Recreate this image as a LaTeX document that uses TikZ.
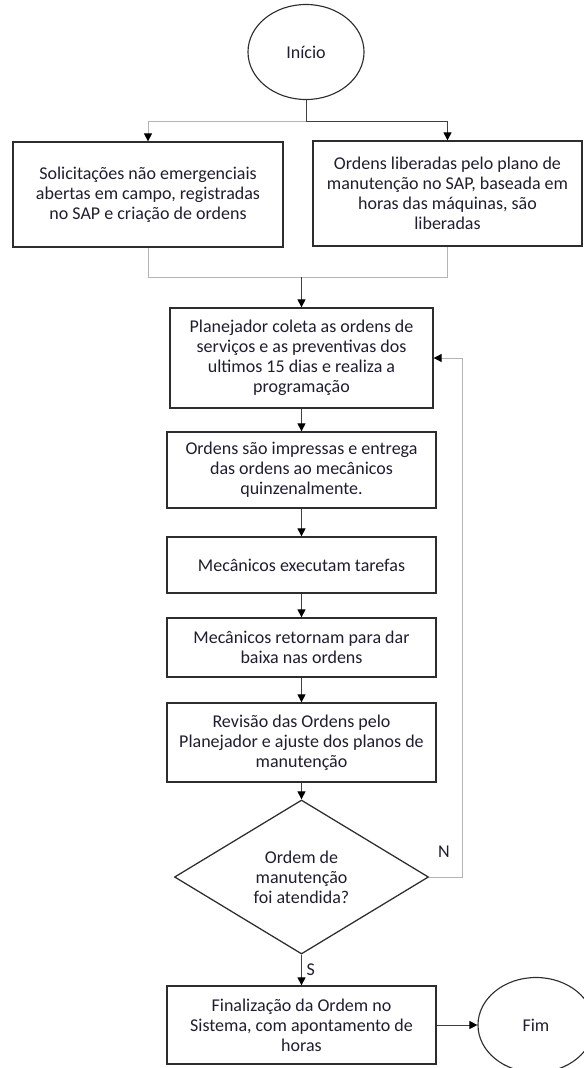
\documentclass[tikz,border=0pt]{standalone}
\usepackage{fontspec}
\setmainfont{Carlito}
\usepackage{xcolor}
\usepackage{tikz}
\usetikzlibrary{arrows.meta,shapes.geometric}

\definecolor{linhaclara}{RGB}{180,180,180}
\definecolor{linhaescura}{RGB}{64,64,64}
\definecolor{borda}{RGB}{45,45,45}
\definecolor{texto}{RGB}{30,30,48}

\begin{document}
\begin{tikzpicture}[x=0.025cm, y=-0.025cm, font=\fontsize{12.8}{14.2}\selectfont, text=texto,
    caixa/.style={shape=rectangle, draw=borda, line width=0.9pt, align=center, inner sep=0pt, minimum width=6.725cm},
    terminal/.style={shape=ellipse, draw=borda, line width=0.8pt, inner sep=0pt, minimum width=2.9cm, minimum height=2.375cm},
    decisao/.style={shape=diamond, draw=borda, line width=0.9pt, align=center, inner sep=0pt, minimum width=6.35cm, minimum height=3.85cm},
    seta/.style={draw=linhaescura, line width=0.7pt, -{Triangle[width=2mm, length=2mm, color=black]}},
    seta clara/.style={seta, draw=linhaclara},
    linha/.style={draw=linhaclara, line width=0.7pt}]
    \clip (0, 0) rectangle (584, 1068);

    \node[terminal] (0) at (306, 52) {Início};
    \node[caixa, minimum width=6.75cm, minimum height=2.625cm] (1) at (148, 194.5) {Solicitações não emergenciais\\abertas em campo, registradas\\no SAP e criação de ordens};
    \node[caixa, minimum height=2.625cm] (2) at (447.5, 193.5) {Ordens liberadas pelo plano de\\manutenção no SAP, baseada em\\horas das máquinas, são\\liberadas};
    \node[caixa, minimum width=6.575cm, minimum height=2.5cm] (3) at (301.5, 358) {Planejador coleta as ordens de\\serviços e as preventivas dos\\ultimos 15 dias e realiza a\\programação};
    \node[caixa, minimum height=1.9cm] (4) at (301.5, 470) {Ordens são impressas e entrega\\das ordens ao mecânicos\\quinzenalmente.};
    \node[caixa, minimum height=1.4cm] (5) at (301.5, 565) {Mecânicos executam tarefas};
    \node[caixa, minimum height=1.475cm] (6) at (301.5, 647.5) {Mecânicos retornam para dar\\baixa nas ordens};
    \node[caixa, minimum height=1.975cm] (7) at (301.5, 742.5) {Revisão das Ordens pelo\\Planejador e ajuste dos planos de\\manutenção};
    \node[decisao] (8) at (301.5, 877) {Ordem de\\manutenção\\foi atendida?};
    \node[caixa, minimum height=1.95cm] (9) at (301.5, 1025) {Finalização da Ordem no\\Sistema, com apontamento de\\horas};
    \node[terminal] (10) at (536, 1025) {Fim};
    \node (n) at (444, 852) {N};

    \coordinate (a) at (306, 121);
    \coordinate (b) at (301.5, 277);
    \coordinate (c) at (462, 877);

    \draw[seta] (0) -- (a) -| (2);
    \draw[seta clara] (a) -| (1);
    \draw[linha] (1) |- (b);
    \draw[linha] (2) |- (b);
    \draw[seta] (b) -- (3);
    \draw[seta] (3) -- (4);
    \draw[seta] (4) -- (5);
    \draw[seta] (5) -- (6);
    \draw[seta] (6) -- (7);
    \draw[seta] (7) -- (8);
    \draw[seta] (8) -- node[right] {S} (9);
    \draw[seta] (9) -- (10);
    \draw[seta clara] (8) -- (c) |- (3);
\end{tikzpicture}
\end{document}
